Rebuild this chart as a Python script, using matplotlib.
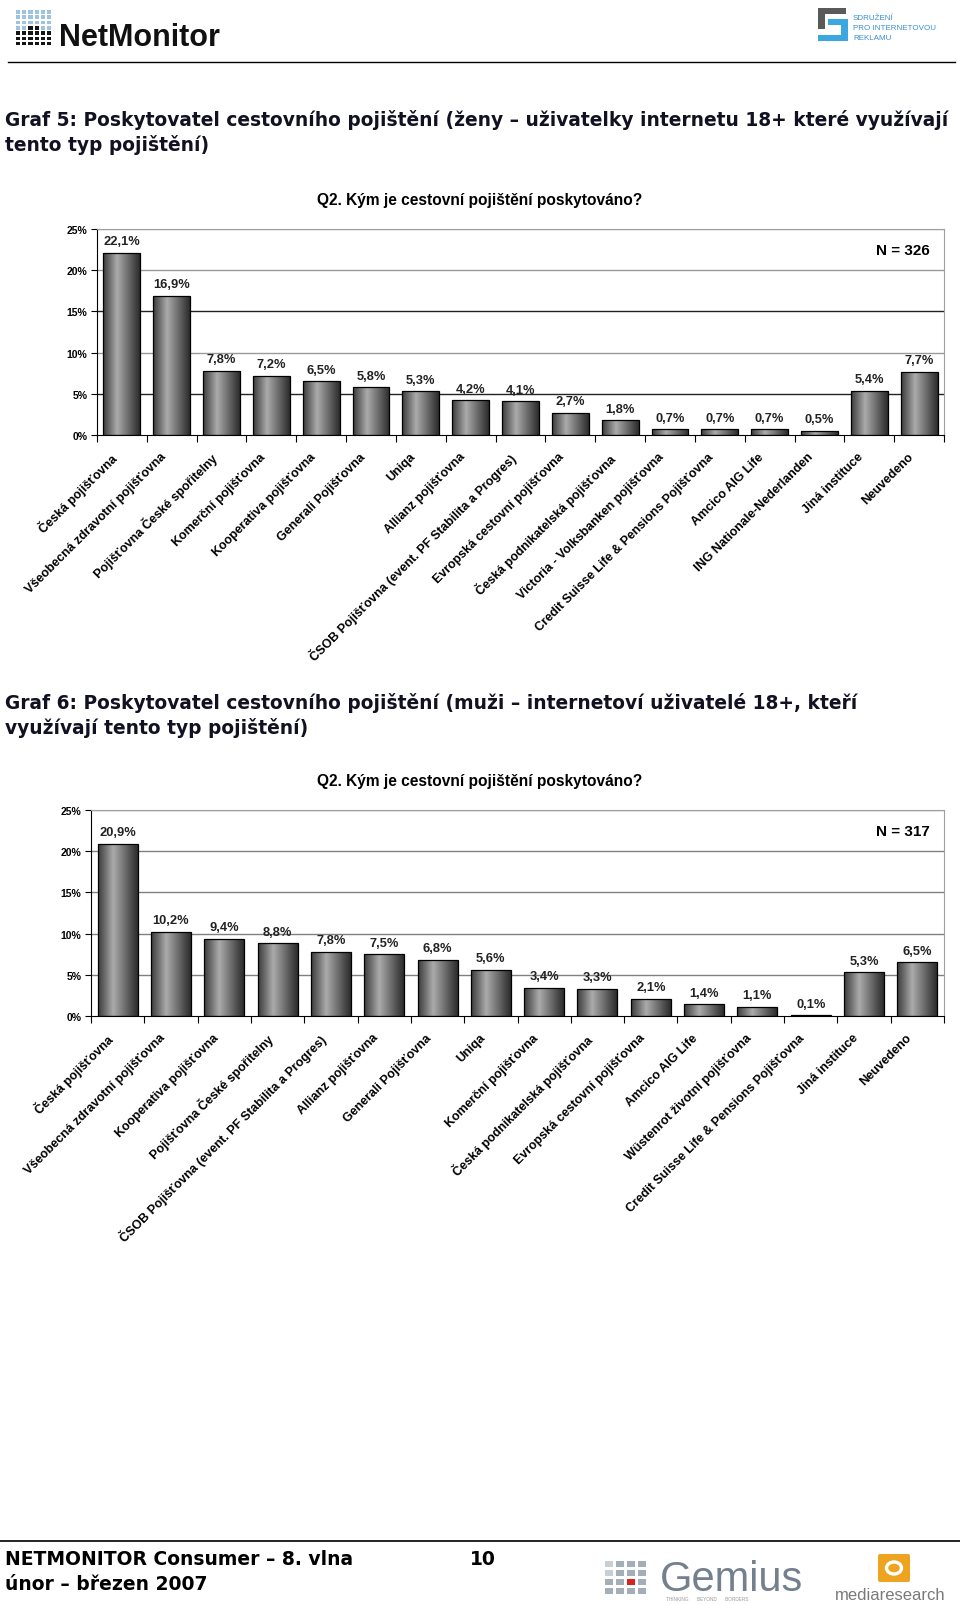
import matplotlib
matplotlib.use('Agg')  # no display
import matplotlib.pyplot as plt
from matplotlib.colors import LinearSegmentedColormap
from matplotlib.patches import Rectangle, Polygon, FancyBboxPatch, Ellipse
from matplotlib.transforms import ScaledTranslation
import numpy as np

plt.rcParams['font.family'] = ['Liberation Sans', 'DejaVu Sans']

W, H = 960, 1606
DPI = 100

# --- data ---
women_labels = [
    'Česká pojišťovna', 'Všeobecná zdravotní pojišťovna', 'Pojišťovna České spořitelny',
    'Komerční pojišťovna', 'Kooperativa pojišťovna', 'Generali Pojišťovna', 'Uniqa',
    'Allianz pojišťovna', 'ČSOB Pojišťovna (event. PF Stabilita a Progres)',
    'Evropská cestovní pojišťovna', 'Česká podnikatelská pojišťovna',
    'Victoria - Volksbanken pojišťovna', 'Credit Suisse Life & Pensions Pojišťovna',
    'Amcico AIG Life', 'ING Nationale-Nederlanden', 'Jiná instituce', 'Neuvedeno',
]
women_values = [22.1, 16.9, 7.8, 7.2, 6.5, 5.8, 5.3, 4.2, 4.1, 2.7, 1.8, 0.7, 0.7, 0.7, 0.5, 5.4, 7.7]

men_labels = [
    'Česká pojišťovna', 'Všeobecná zdravotní pojišťovna', 'Kooperativa pojišťovna',
    'Pojišťovna České spořitelny', 'ČSOB Pojišťovna (event. PF Stabilita a Progres)',
    'Allianz pojišťovna', 'Generali Pojišťovna', 'Uniqa', 'Komerční pojišťovna',
    'Česká podnikatelská pojišťovna', 'Evropská cestovní pojišťovna', 'Amcico AIG Life',
    'Wüstenrot životní pojišťovna', 'Credit Suisse Life & Pensions Pojišťovna',
    'Jiná instituce', 'Neuvedeno',
]
men_values = [20.9, 10.2, 9.4, 8.8, 7.8, 7.5, 6.8, 5.6, 3.4, 3.3, 2.1, 1.4, 1.1, 0.1, 5.3, 6.5]

women_n = 'N = 326'
men_n = 'N = 317'
question = 'Q2. Kým je cestovní pojištění poskytováno?'
yticks = [0, 5, 10, 15, 20, 25]

title5 = ['Graf 5: Poskytovatel cestovního pojištění (ženy – uživatelky internetu 18+ které využívají',
          'tento typ pojištění)']
title6 = ['Graf 6: Poskytovatel cestovního pojištění (muži – internetoví uživatelé 18+, kteří',
          'využívají tento typ pojištění)']

fig = plt.figure(figsize=(W / DPI, H / DPI), dpi=DPI)
fig.patch.set_facecolor('white')

# overlay in pixel coordinates for page decorations
deco = fig.add_axes([0, 0, 1, 1], zorder=0)
deco.set_xlim(0, W)
deco.set_ylim(H, 0)
deco.axis('off')


def px_axes(x0, y0, x1, y1):
    return fig.add_axes([x0 / W, 1 - y1 / H, (x1 - x0) / W, (y1 - y0) / H], zorder=2)


bar_cmap = LinearSegmentedColormap.from_list(
    'cyl', [(0.0, '#3c3c3c'), (0.38, '#ababab'), (1.0, '#2c2c2c')])


def draw_chart(box, labels, values, n_text, grid_colors, bar_width):
    ax = px_axes(*box)
    n = len(values)
    x = np.arange(n)
    bars = ax.bar(x, values, width=bar_width, facecolor='none',
                  edgecolor='black', linewidth=0.9, zorder=3)
    grad = np.linspace(0, 1, 64).reshape(1, -1)
    for b in bars:
        im = ax.imshow(grad, cmap=bar_cmap, aspect='auto', interpolation='bilinear',
                       extent=(b.get_x(), b.get_x() + b.get_width(), 0, b.get_height()),
                       zorder=2)
        im.set_clip_path(b)
        ax.annotate(f'{b.get_height():.1f}%'.replace('.', ','),
                    (b.get_x() + b.get_width() / 2, b.get_height()),
                    xytext=(0, 4), textcoords='offset points',
                    ha='center', va='bottom', fontsize=9.3, fontweight='bold',
                    color='#222222')

    ax.set_xlim(-0.5, n - 0.5)
    ax.set_ylim(0, 25)
    for v, c in zip(yticks[1:], grid_colors):
        ax.axhline(v, color=c, lw=1, zorder=1)

    ax.text(0.983, 0.90, n_text, transform=ax.transAxes, ha='right', va='center',
            fontsize=11, fontweight='bold')

    for s in ('top', 'right'):
        ax.spines[s].set_color('#a0a0a0')
    ax.spines['left'].set_color('black')
    ax.spines['bottom'].set_color('black')

    ax.set_yticks(yticks, [f'{v}%' for v in yticks])
    ax.tick_params(axis='y', length=4, direction='out', labelsize=7.5, pad=3)
    for lbl in ax.get_yticklabels():
        lbl.set_fontweight('bold')

    ax.set_xticks(np.arange(n + 1) - 0.5, [''] * (n + 1))
    ax.set_xticks(x, labels, minor=True)
    ax.tick_params(axis='x', which='major', length=5, direction='out')
    ax.tick_params(axis='x', which='minor', length=0, pad=11, labelsize=9)
    shift = ScaledTranslation(-12 / DPI, 0, fig.dpi_scale_trans)
    for lbl in ax.get_xticklabels(minor=True):
        lbl.set_rotation(45)
        lbl.set_ha('right')
        lbl.set_rotation_mode('anchor')
        lbl.set_fontweight('bold')
        lbl.set_transform(lbl.get_transform() + shift)
    return ax


# --- header ---
for r in range(7):
    for c in range(6):
        col = '#9cc3e0' if r < 3 else '#151515'
        if r == 3 and c in (0, 1, 4, 5):
            col = '#9cc3e0'
        deco.add_patch(Rectangle((16 + c * 6.2, 11 + r * 5.3), 4.2, 3.6, color=col, lw=0))
deco.text(59, 46, 'NetMonitor', fontsize=22, fontweight='bold', color='#111', va='baseline')

deco.add_patch(Polygon([(818, 9), (846, 9), (846, 15), (825, 15), (825, 30), (818, 30)],
                       closed=True, color='#5a5a5a', lw=0))
deco.add_patch(Polygon([(828, 20), (848, 20), (848, 42), (818, 42), (818, 36), (841, 36),
                        (841, 26), (828, 26)], closed=True, color='#3aa7e0', lw=0))
for i, t in enumerate(['SDRUŽENÍ', 'PRO INTERNETOVOU', 'REKLAMU']):
    deco.text(853, 18 + i * 10, t, fontsize=5.8, color='#3a8fd0', va='center')

deco.plot([8, 955], [63, 63], color='black', lw=1)

for i, t in enumerate(title5):
    deco.text(5, 120 + i * 25, t, fontsize=13.4, fontweight='bold', color='#111122',
              va='center', family='DejaVu Sans')
for i, t in enumerate(title6):
    deco.text(5, 703 + i * 25, t, fontsize=13.4, fontweight='bold', color='#111122',
              va='center', family='DejaVu Sans')

# --- charts ---
deco.text(480, 200, question, fontsize=11.2, fontweight='bold', ha='center', va='center')
draw_chart((97, 230, 944, 436), women_labels, women_values, women_n,
           ['#222222', '#9a9a9a', '#222222', '#9a9a9a', '#9a9a9a'], 0.74)

deco.text(480, 782, question, fontsize=11.2, fontweight='bold', ha='center', va='center')
draw_chart((91, 811, 944, 1017), men_labels, men_values, men_n,
           ['#808080'] * 5, 0.75)

# --- footer ---
deco.plot([0, 960], [1542, 1542], color='black', lw=1.2)
deco.text(5, 1560, 'NETMONITOR Consumer – 8. vlna', fontsize=13.5, fontweight='bold',
          va='center', family='DejaVu Sans')
deco.text(5, 1585, 'únor – březen 2007', fontsize=13.5, fontweight='bold',
          va='center', family='DejaVu Sans')
deco.text(470, 1560, '10', fontsize=13.5, fontweight='bold', va='center', family='DejaVu Sans')

for r in range(4):
    for c in range(4):
        col = '#a4aeb9'
        if r == 2 and c == 2:
            col = '#d8231f'
        if (r == 0 and c == 0) or (r == 1 and c == 0):
            col = '#c8ced5'
        deco.add_patch(Rectangle((605 + c * 11, 1562 + r * 9), 8, 6, color=col, lw=0))
deco.text(660, 1591, 'Gemius', fontsize=30, color='#74808d', va='baseline')
deco.text(666, 1600, 'THINKING      BEYOND      BORDERS', fontsize=3.4, color='#999', va='center')

deco.add_patch(FancyBboxPatch((880, 1557), 28, 24, boxstyle='round,pad=2',
                              color='#eea421', lw=0))
deco.add_patch(Ellipse((894, 1569), 15, 12, facecolor='none', edgecolor='white', lw=2.4))
deco.text(835, 1596, 'mediaresearch', fontsize=12, color='#7a7a7a', va='center')

fig.savefig('out.png', dpi=DPI, facecolor='white')
plt.close(fig)
